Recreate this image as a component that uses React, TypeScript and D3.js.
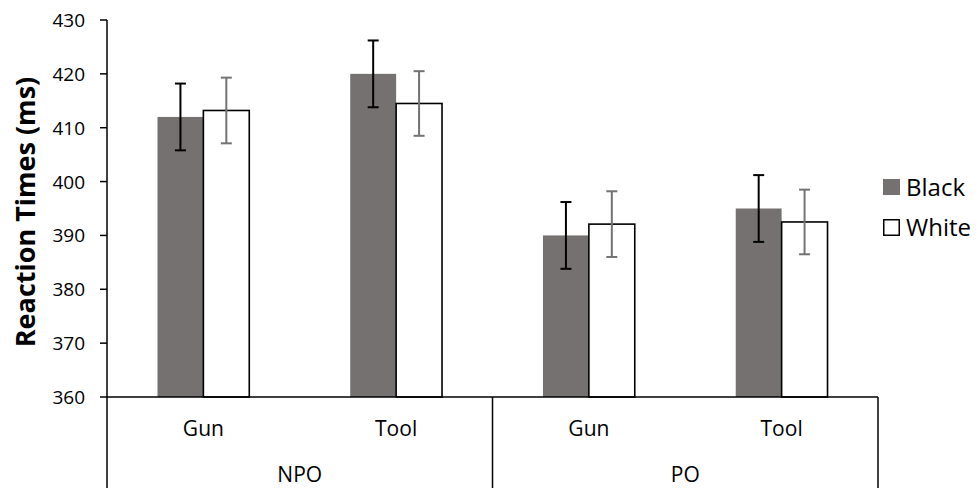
import * as d3 from "d3";
import React from "react";

// data
const groups = ["NPO", "PO"];
const conditions = ["Gun", "Tool"];
const series = ["Black", "White"];
const blackMeans = [412.0, 420.0, 390.0, 395.0];
const whiteMeans = [413.2, 414.5, 392.1, 392.5];
const blackErr = [6.2, 6.2, 6.2, 6.2];
const whiteErr = [6.1, 6.0, 6.1, 6.0];
const yTicks = [360, 370, 380, 390, 400, 410, 420, 430];

const W = 980;
const H = 488;
const margin = { top: 20, left: 107, right: 102, bottom: 91 };
const font = "'Open Sans', 'Liberation Sans', sans-serif";
const blackFill = "#767171";
const whiteErrColor = "#737373";

const App = () => {
  const plotRight = W - margin.right;
  const plotBottom = H - margin.bottom;

  const cats = groups.flatMap((g) => conditions.map((c) => g + "|" + c));

  const x = d3.scaleBand().domain(cats).range([margin.left, plotRight]).padding(0);
  const xSeries = d3
    .scaleBand()
    .domain(series)
    .range([0, x.bandwidth()])
    .paddingInner(0)
    .paddingOuter(1.1);
  const y = d3.scaleLinear().domain([360, 430]).range([plotBottom, margin.top]);

  const groupX = d3.scaleBand().domain(groups).range([margin.left, plotRight]).padding(0);

  const values = [blackMeans, whiteMeans];
  const errs = [blackErr, whiteErr];

  return (
    <svg
      width={W}
      height={H}
      style={{ position: "absolute", left: 0, top: 0, background: "#fff" }}
      fontFamily={font}
    >
      {/* bars */}
      {series.map((s, si) =>
        cats.map((c, ci) => {
          const bx = (x(c) as number) + (xSeries(s) as number);
          const v = values[si][ci];
          return (
            <rect
              key={s + c}
              x={bx}
              y={y(v)}
              width={xSeries.bandwidth()}
              height={plotBottom - y(v)}
              fill={si === 0 ? blackFill : "#fff"}
              stroke={si === 0 ? "none" : "#000"}
              strokeWidth={1.6}
            />
          );
        })
      )}

      {/* error bars */}
      {series.map((s, si) =>
        cats.map((c, ci) => {
          const cx = (x(c) as number) + (xSeries(s) as number) + xSeries.bandwidth() / 2;
          const v = values[si][ci];
          const e = errs[si][ci];
          const col = si === 0 ? "#000" : whiteErrColor;
          return (
            <g key={"e" + s + c} stroke={col} strokeWidth={2}>
              <line x1={cx} x2={cx} y1={y(v + e)} y2={y(v - e)} />
              <line x1={cx - 5.5} x2={cx + 5.5} y1={y(v + e)} y2={y(v + e)} />
              <line x1={cx - 5.5} x2={cx + 5.5} y1={y(v - e)} y2={y(v - e)} />
            </g>
          );
        })
      )}

      {/* y axis */}
      <line x1={margin.left} x2={margin.left} y1={margin.top} y2={H} stroke="#000" strokeWidth={1.5} />
      {yTicks.map((t) => (
        <g key={t}>
          <line x1={margin.left - 7} x2={margin.left} y1={y(t)} y2={y(t)} stroke="#000" strokeWidth={1.5} />
          <text x={margin.left - 22} y={y(t) + 7} textAnchor="end" fontSize={19} fill="#000">
            {t}
          </text>
        </g>
      ))}
      <text
        transform={`translate(35, 212) rotate(-90)`}
        textAnchor="middle"
        fontSize={27}
        fontWeight="bold"
        fill="#000"
      >
        Reaction Times (ms)
      </text>

      {/* category axis */}
      <line x1={margin.left} x2={plotRight} y1={plotBottom} y2={plotBottom} stroke="#000" strokeWidth={1.5} />
      {groups.map((g, gi) => {
        const gx = groupX(g) as number;
        return (
          <g key={g}>
            {gi > 0 && <line x1={gx} x2={gx} y1={plotBottom} y2={H} stroke="#000" strokeWidth={1.5} />}
            <text x={gx + groupX.bandwidth() / 2} y={482} textAnchor="middle" fontSize={21} fill="#000">
              {g}
            </text>
          </g>
        );
      })}
      <line x1={plotRight} x2={plotRight} y1={plotBottom} y2={H} stroke="#000" strokeWidth={1.5} />
      {cats.map((c) => (
        <text
          key={"l" + c}
          x={(x(c) as number) + x.bandwidth() / 2}
          y={436}
          textAnchor="middle"
          fontSize={21}
          fill="#000"
        >
          {c.split("|")[1]}
        </text>
      ))}

      {/* legend */}
      {series.map((s, si) => (
        <g key={"lg" + s} transform={`translate(883, ${179 + si * 40})`}>
          <rect
            x={si === 0 ? 0 : 0.75}
            y={si === 0 ? 0 : 0.75}
            width={si === 0 ? 17 : 15.5}
            height={si === 0 ? 16 : 15.5}
            fill={si === 0 ? blackFill : "#fff"}
            stroke={si === 0 ? "none" : "#000"}
            strokeWidth={1.5}
          />
          <text x={23} y={17} fontSize={24} fill="#000">
            {s}
          </text>
        </g>
      ))}
    </svg>
  );
};

export default App;
